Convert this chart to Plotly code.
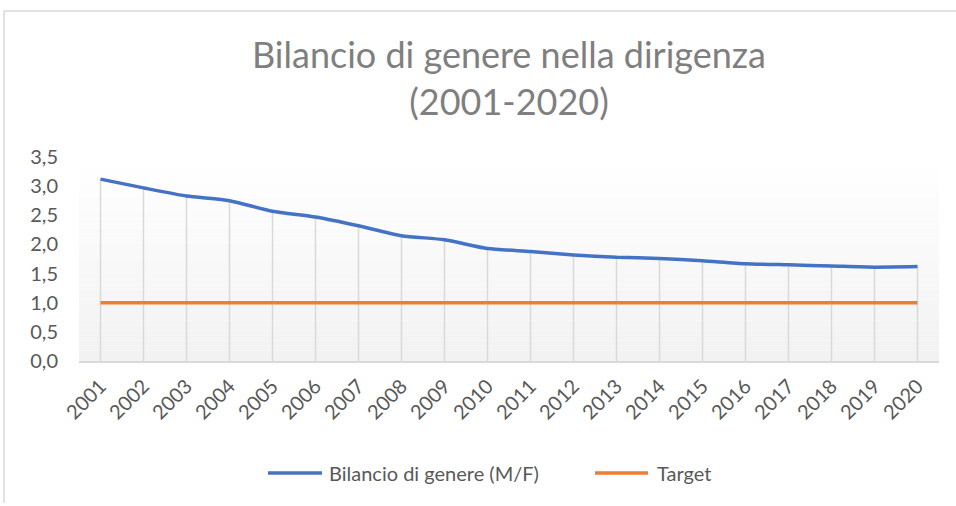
import plotly.graph_objects as go

years = [str(y) for y in range(2001, 2021)]
bilancio = [3.12, 2.97, 2.83, 2.75, 2.57, 2.47, 2.32, 2.15, 2.08, 1.93,
            1.88, 1.82, 1.78, 1.76, 1.72, 1.67, 1.65, 1.63, 1.61, 1.62]
target = [1.0] * 20
y_ticks = [0.0, 0.5, 1.0, 1.5, 2.0, 2.5, 3.0, 3.5]
series_names = ["Bilancio di genere (M/F)", "Target"]
series_colors = ["#4472C4", "#ED7D31"]

FONT = "Lato"
GREY_TXT = "#595959"

W, H = 956, 506
L, R, T, B = 79, 17, 157, 145
PW, PH = W - L - R, H - T - B


def px(x):
    return (x - L) / PW


def py(y):
    return (H - B - y) / PH


fig = go.Figure()

# drop lines (Excel style) from the highest series point down to the axis
dx, dy = [], []
for yr, v in zip(years, bilancio):
    dx += [yr, yr, None]
    dy += [0, v, None]
fig.add_trace(go.Scatter(x=dx, y=dy, mode="lines", showlegend=False, hoverinfo="skip",
                         line=dict(color="#d9d9d9", width=1.5)))

fig.add_trace(go.Scatter(x=years, y=bilancio, mode="lines", name=series_names[0], showlegend=False,
                         line=dict(color=series_colors[0], width=3.5, shape="spline", smoothing=0.6)))
fig.add_trace(go.Scatter(x=years, y=target, mode="lines", name=series_names[1], showlegend=False,
                         line=dict(color=series_colors[1], width=3.5)))

# vertical gradient background of the plot area
shapes = []
n = 40
for i in range(n):
    t = i / (n - 1)
    c = int(round(242 + (255 - 242) * t))
    shapes.append(dict(type="rect", xref="x domain", yref="y domain",
                       x0=0, x1=1, y0=i / n, y1=(i + 1) / n,
                       fillcolor=f"rgb({c},{c},{c})", line=dict(width=0), layer="below"))
# chart frame (left and top borders)
shapes.append(dict(type="line", xref="paper", yref="paper", x0=px(4), x1=px(4),
                   y0=py(503), y1=py(11), line=dict(color="#d9d9d9", width=1.5)))
shapes.append(dict(type="line", xref="paper", yref="paper", x0=px(4), x1=px(960),
                   y0=py(11), y1=py(11), line=dict(color="#d9d9d9", width=1.5)))

# legend drawn manually (long Excel-style line keys)
annotations = []
legend_keys = [(268, 322, 327), (595, 648, 655)]
for (k0, k1, tx), name, col in zip(legend_keys, series_names, series_colors):
    shapes.append(dict(type="line", xref="paper", yref="paper", x0=px(k0), x1=px(k1),
                       y0=py(473), y1=py(473), line=dict(color=col, width=3.5)))
    annotations.append(dict(text=name, xref="paper", yref="paper", x=px(tx), y=py(473),
                            xanchor="left", yanchor="middle", showarrow=False,
                            font=dict(family=FONT, size=20, color=GREY_TXT)))

fig.update_layout(
    width=W, height=H,
    margin=dict(l=L, r=R, t=T, b=B, autoexpand=False),
    paper_bgcolor="white", plot_bgcolor="white",
    separators=",.",
    shapes=shapes,
    annotations=annotations,
    showlegend=False,
    title=dict(text="Bilancio di genere nella dirigenza<br>(2001-2020)",
               x=0.5, xanchor="center", xref="paper", yref="container",
               y=1 - 68 / H, yanchor="top",
               font=dict(family=FONT, size=36, color="#7f7f7f")),
    font=dict(family=FONT, color=GREY_TXT),
    xaxis=dict(type="category", range=[-0.5, 19.5], tickangle=-45, showgrid=False,
               showline=True, linecolor="#d9d9d9", linewidth=1.5, ticks="",
               automargin=False, ticklabelstandoff=4,
               tickfont=dict(family=FONT, size=20, color=GREY_TXT)),
    yaxis=dict(range=[0, 3.5], tickvals=y_ticks, tickformat=".1f", showgrid=False,
               zeroline=False, showline=False, ticks="", automargin=False,
               ticklabelstandoff=20,
               tickfont=dict(family=FONT, size=20, color=GREY_TXT)),
)

fig.write_html("out.html", config={"displayModeBar": False},
               post_script="document.body.style.margin='0';")
